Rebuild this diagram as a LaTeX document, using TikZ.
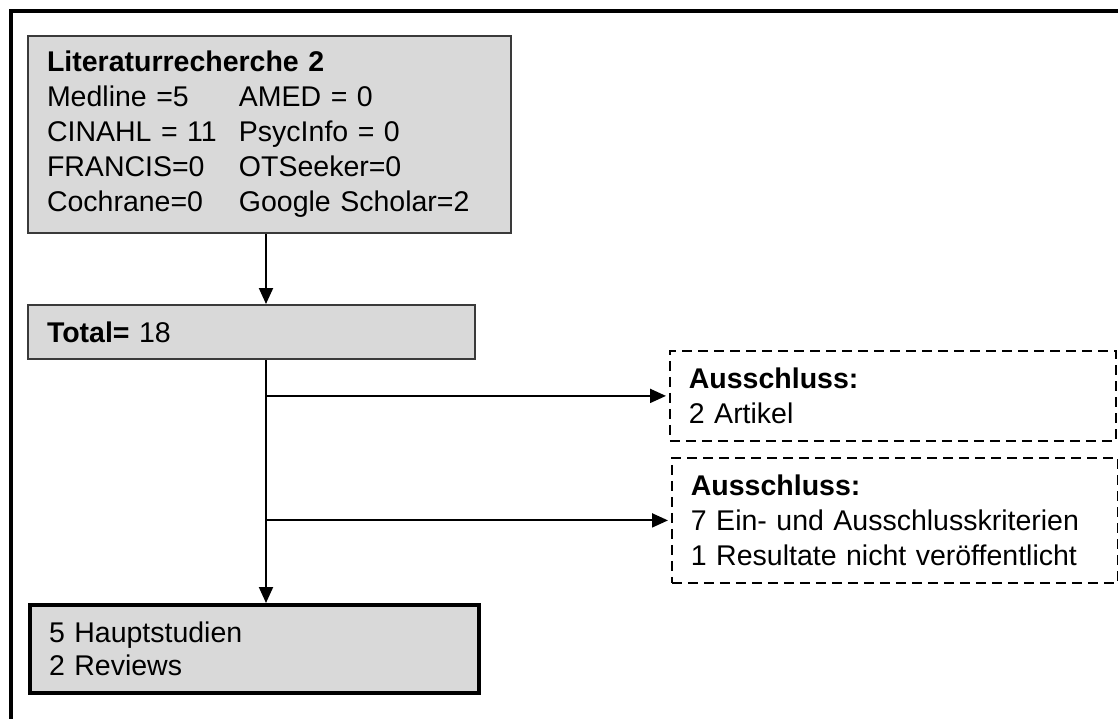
\documentclass[tikz,border=0pt]{standalone}
\usepackage{fontspec}
\setmainfont{Liberation Sans}
\usetikzlibrary{arrows.meta,calc}
\definecolor{boxgray}{HTML}{D9D9D9}
\definecolor{edgegray}{HTML}{3A3A3A}
\begin{document}
\begin{tikzpicture}[x=1pt,y=-1pt,
  every node/.style={font=\fontsize{28.5}{35}\selectfont, text=black},
  graybox/.style={draw=edgegray, line width=2pt, fill=boxgray, anchor=north west,
    align=left, inner xsep=19pt, inner ysep=0pt},
  resbox/.style={graybox, draw=black, line width=4pt},
  exbox/.style={draw=black, line width=1.8pt, dash pattern=on 10pt off 6pt,
    anchor=north west, align=left, inner xsep=19pt, inner ysep=0pt},
  arr/.style={draw=black, line width=2pt, -{Triangle[length=16pt,width=14pt]}}]
\useasboundingbox (0,0) rectangle (1118,718);
\fill[white] (0,0) rectangle (1118,718);
% outer frame (top and left edges only)
\draw[line width=4.5pt, line join=miter] (11,720) -- (11,11) -- (1120,11);

\node[graybox, minimum width=483pt, minimum height=197pt, text width=445pt] (lit) at (27,35)
  {\textbf{Literaturrecherche 2}\\
   \makebox[192pt][l]{Medline =5}AMED = 0\\
   \makebox[192pt][l]{CINAHL = 11}PsycInfo = 0\\
   \makebox[192pt][l]{FRANCIS=0}OTSeeker=0\\
   \makebox[192pt][l]{Cochrane=0}Google Scholar=2};

\node[graybox, minimum width=447pt, minimum height=54pt, text width=409pt] (tot) at (27,304)
  {\textbf{Total=} 18};

\node[resbox, minimum width=449pt, minimum height=88pt, text width=411pt,
  font=\fontsize{28.5}{33}\selectfont] (res) at (28,603)
  {5 Hauptstudien\\2 Reviews};

\node[exbox, minimum width=446pt, minimum height=90pt, text width=408pt] (ex1) at (669,350)
  {\textbf{Ausschluss:}\\2 Artikel};

\node[exbox, minimum width=446pt, minimum height=125pt, text width=408pt] (ex2) at (671,457)
  {\textbf{Ausschluss:}\\7 Ein- und Ausschlusskriterien\\1 Resultate nicht veröffentlicht};

\coordinate (vx) at (266,0);
\draw[arr] (lit.south -| vx) -- (tot.north -| vx);
\draw[arr] (tot.south -| vx) -- (res.north -| vx);
\draw[arr, shorten >=3pt] (ex1.west -| vx) -- (ex1.west);
\draw[arr, shorten >=3pt] (ex2.west -| vx) -- (ex2.west);
\end{tikzpicture}
\end{document}
